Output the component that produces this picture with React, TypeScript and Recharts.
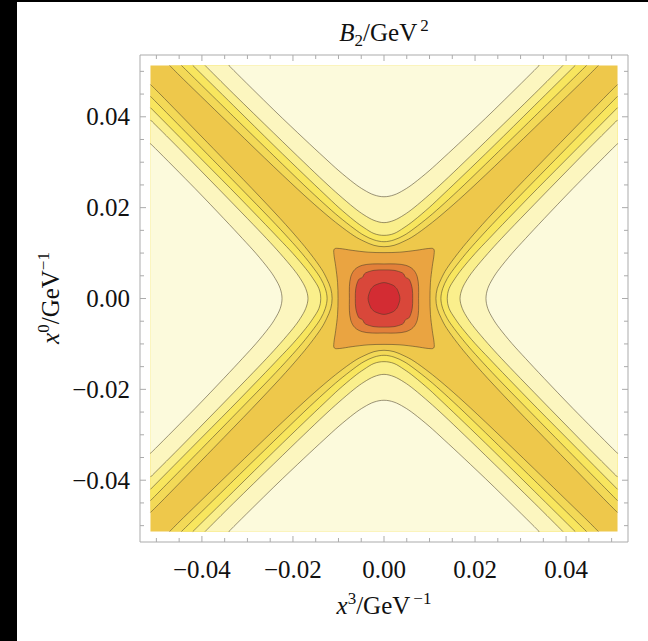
import { ScatterChart, Scatter, XAxis, YAxis } from 'recharts'

const FONT = '"Liberation Serif", "Times New Roman", serif'
const FRAME = '#ababab'
const LINE = 'rgba(70, 60, 40, 0.6)'

// plot range (GeV^-1): filled data range and frame range
const FILL_EXTENT = 0.0513
const AXIS_EXTENT = 0.0536

const MAJOR_TICKS = [-0.04, -0.02, 0, 0.02, 0.04]
const ALL_TICKS = [
  -0.05, -0.045, -0.04, -0.035, -0.03, -0.025, -0.02, -0.015, -0.01, -0.005, 0,
  0.005, 0.01, 0.015, 0.02, 0.025, 0.03, 0.035, 0.04, 0.045, 0.05,
]

// wedge contours, upper half of the left wedge, as [|x3|, x0]
// innermost level first (nearest the X band)
const WEDGE_L5 = [[0.0114, 0], [0.0117, 0.0022], [0.0126, 0.0044], [0.0138, 0.0066], [0.0162, 0.0099], [0.0189, 0.0132], [0.0228, 0.0176], [0.029, 0.0242], [0.0375, 0.033], [0.0482, 0.044], [0.0513, 0.0471]]
const WEDGE_L4 = [[0.0125, 0], [0.0129, 0.0022], [0.0139, 0.0044], [0.0154, 0.0066], [0.018, 0.0099], [0.0209, 0.0132], [0.025, 0.0176], [0.0314, 0.0242], [0.04, 0.033], [0.0513, 0.0445]]
const WEDGE_L3 = [[0.0139, 0], [0.0143, 0.0022], [0.0156, 0.0044], [0.0172, 0.0066], [0.02, 0.0099], [0.0231, 0.0132], [0.0273, 0.0176], [0.0337, 0.0242], [0.0424, 0.033], [0.0513, 0.042]]
const WEDGE_L2 = [[0.0167, 0], [0.0172, 0.0022], [0.0184, 0.0044], [0.02, 0.0066], [0.0228, 0.0099], [0.0258, 0.0132], [0.03, 0.0176], [0.0364, 0.0242], [0.045, 0.033], [0.0513, 0.0393]]
const WEDGE_L1 = [[0.0224, 0], [0.0228, 0.0022], [0.0239, 0.0044], [0.0254, 0.0066], [0.0281, 0.0099], [0.0311, 0.0132], [0.0352, 0.0176], [0.0415, 0.0242], [0.0502, 0.033], [0.0513, 0.034]]
const WEDGE_LEVELS = [WEDGE_L5, WEDGE_L4, WEDGE_L3, WEDGE_L2, WEDGE_L1]
const WEDGE_COLORS = ['#F3D957', '#F8E65E', '#FAEF8C', '#FCF6BF', '#FCFADC']
const BAND_COLOR = '#EEC84B'

// central contours, first quadrant [x3, x0]
const CORE_1 = [[0.0101, 0], [0.0102, 0.0035], [0.0106, 0.007], [0.011, 0.0097], [0.0109, 0.0109], [0.0097, 0.011], [0.007, 0.0106], [0.0035, 0.0102], [0, 0.0101]]
const CORE_2 = [[0.0076, 0], [0.0076, 0.0026], [0.0073, 0.0048], [0.0064, 0.0064], [0.0048, 0.0073], [0.0026, 0.0076], [0, 0.0076]]
const CORE_3 = [[0.0063, 0], [0.0062, 0.0022], [0.0056, 0.0041], [0.0047, 0.0047], [0.0041, 0.0056], [0.0022, 0.0062], [0, 0.0063]]
const CORE_4 = [[0.0035, 0], [0.003, 0.0018], [0.0025, 0.0025], [0.0018, 0.003], [0, 0.0035]]
const CORE_LEVELS = [CORE_1, CORE_2, CORE_3, CORE_4]
const CORE_COLORS = ['#EAA441', '#E2803A', '#D9473A', '#D32C33']

type Pt = { x: number; y: number }
type Kind = 'rect' | 'wedge' | 'loop'

const SIDES = ['left', 'right', 'top', 'bottom'] as const

function wedgeCurve(half: number[][], side: (typeof SIDES)[number]) {
  const full = [...half.slice(1).reverse().map(([u, v]) => [u, -v]), ...half]
  return full.map(([u, v]) => {
    if (side === 'left') return { x: -u, y: v }
    if (side === 'right') return { x: u, y: v }
    if (side === 'top') return { x: v, y: u }
    return { x: v, y: -u }
  })
}

function closedLoop(q: number[][]) {
  const q2 = q.map(([a, b]) => [-a, b]).reverse().slice(1)
  const q3 = q.map(([a, b]) => [-a, -b]).slice(1)
  const q4 = q.map(([a, b]) => [a, -b]).reverse().slice(1, -1)
  return [...q, ...q2, ...q3, ...q4].map(([x, y]) => ({ x, y }))
}

// catmull-rom through the pixel points
function smooth(pts: Pt[], closed: boolean) {
  const n = pts.length
  const get = (i: number) => (closed ? pts[(i + n) % n] : pts[Math.max(0, Math.min(n - 1, i))])
  let d = `M${pts[0].x},${pts[0].y}`
  const segs = closed ? n : n - 1
  for (let i = 0; i < segs; i++) {
    const p0 = get(i - 1), p1 = get(i), p2 = get(i + 1), p3 = get(i + 2)
    const c1x = p1.x + (p2.x - p0.x) / 6
    const c1y = p1.y + (p2.y - p0.y) / 6
    const c2x = p2.x - (p3.x - p1.x) / 6
    const c2y = p2.y - (p3.y - p1.y) / 6
    d += ` C${c1x},${c1y} ${c2x},${c2y} ${p2.x},${p2.y}`
  }
  return closed ? d + 'Z' : d
}

const E = FILL_EXTENT
const fillRect = [{ x: -E, y: -E }, { x: E, y: -E }, { x: E, y: E }, { x: -E, y: E }]
const regions: { key: string; kind: Kind; fill: string; data: Pt[] }[] = [
  { key: 'band', kind: 'rect', fill: BAND_COLOR, data: fillRect },
  ...WEDGE_LEVELS.flatMap((lvl, i) =>
    SIDES.map((side) => ({ key: `w${i}-${side}`, kind: 'wedge' as Kind, fill: WEDGE_COLORS[i], data: wedgeCurve(lvl, side) }))
  ),
  ...CORE_LEVELS.map((q, i) => ({ key: `c${i}`, kind: 'loop' as Kind, fill: CORE_COLORS[i], data: closedLoop(q) })),
]

const regionLine = (kind: Kind, fill: string) => (p: any) => {
  const pts: Pt[] = p.points
  if (kind === 'rect') {
    const d = pts.map((q, i) => `${i ? 'L' : 'M'}${q.x},${q.y}`).join(' ') + 'Z'
    return <path d={d} fill={fill} stroke="none" />
  }
  if (kind === 'loop') {
    return <path d={smooth(pts, true)} fill={fill} stroke={LINE} strokeWidth={0.9} />
  }
  const d = smooth(pts, false)
  return (
    <g>
      <path d={d + 'Z'} fill={fill} stroke="none" />
      <path d={d} fill="none" stroke={LINE} strokeWidth={0.9} />
    </g>
  )
}

const noDot = () => <g />

const fmt = (v: number) => (v < 0 ? '\u2212' : '') + Math.abs(v).toFixed(2)
const isMajor = (v: number) => MAJOR_TICKS.includes(v)

const bottomTick = ({ x, y, payload }: any) => (
  <g>
    <line x1={x} x2={x} y1={y} y2={y - (isMajor(payload.value) ? 6 : 4)} stroke={FRAME} />
    {isMajor(payload.value) && (
      <text x={x} y={y + 36} textAnchor="middle" fontFamily={FONT} fontSize={25} fill="#111">
        {fmt(payload.value)}
      </text>
    )}
  </g>
)
const topTick = ({ x, y, payload }: any) => (
  <line x1={x} x2={x} y1={y} y2={y + (isMajor(payload.value) ? 6 : 4)} stroke={FRAME} />
)
const leftTick = ({ x, y, payload }: any) => (
  <g>
    <line x1={x} x2={x + (isMajor(payload.value) ? 6 : 4)} y1={y} y2={y} stroke={FRAME} />
    {isMajor(payload.value) && (
      <text x={x - 10} y={y + 8.5} textAnchor="end" fontFamily={FONT} fontSize={25} fill="#111">
        {fmt(payload.value)}
      </text>
    )}
  </g>
)
const rightTick = ({ x, y, payload }: any) => (
  <line x1={x} x2={x - (isMajor(payload.value) ? 6 : 4)} y1={y} y2={y} stroke={FRAME} />
)

const PlotTitle = () => (
  <text x={376} y={33} textAnchor="middle" fontFamily={FONT} fontSize={25} fill="#111">
    <tspan fontStyle="italic">B</tspan>
    <tspan fontSize={17} dy={5}>2</tspan>
    <tspan dy={-5}>/GeV</tspan>
    <tspan fontSize={17} dx={3} dy={-10}>2</tspan>
  </text>
)
const XTitle = () => (
  <text x={376} y={606} textAnchor="middle" fontFamily={FONT} fontSize={25} fill="#111">
    <tspan fontStyle="italic">x</tspan>
    <tspan fontSize={17} dy={-10}>3</tspan>
    <tspan dy={10}>/GeV</tspan>
    <tspan fontSize={17} dx={3} dy={-10}>{'\u22121'}</tspan>
  </text>
)
const YTitle = () => (
  <text transform="rotate(-90)" x={-290} y={51} textAnchor="middle" fontFamily={FONT} fontSize={25} fill="#111">
    <tspan fontStyle="italic">x</tspan>
    <tspan fontSize={17} dy={-10}>0</tspan>
    <tspan dy={10}>/GeV</tspan>
    <tspan fontSize={17} dy={-10}>{'\u22121'}</tspan>
  </text>
)

export default function App() {
  const domain = [-AXIS_EXTENT, AXIS_EXTENT]
  return (
    <div>
      <div style={{ position: 'fixed', left: 0, top: 0, width: 17, height: '100%', background: '#000', zIndex: 2 }} />
      <div style={{ position: 'fixed', left: 0, top: 0, width: '100%', height: 2, background: '#000', zIndex: 2 }} />
      <ScatterChart width={640} height={633} margin={{ top: 46, right: 19, bottom: 0, left: 0 }}>
        <XAxis xAxisId="b" type="number" dataKey="x" orientation="bottom" domain={domain} allowDataOverflow
          ticks={ALL_TICKS} interval={0} tickSize={0} tickMargin={0} tickLine={false} tick={bottomTick}
          height={99} axisLine={{ stroke: FRAME }} label={<XTitle />} />
        <XAxis xAxisId="t" type="number" dataKey="x" orientation="top" domain={domain} allowDataOverflow
          ticks={ALL_TICKS} interval={0} tickSize={0} tickMargin={0} tickLine={false} tick={topTick}
          height={1} axisLine={{ stroke: FRAME }} label={<PlotTitle />} />
        <YAxis yAxisId="l" type="number" dataKey="y" orientation="left" domain={domain} allowDataOverflow
          ticks={ALL_TICKS} interval={0} tickSize={0} tickMargin={0} tickLine={false} tick={leftTick}
          width={132} axisLine={{ stroke: FRAME }} label={<YTitle />} />
        <YAxis yAxisId="r" type="number" dataKey="y" orientation="right" domain={domain} allowDataOverflow
          ticks={ALL_TICKS} interval={0} tickSize={0} tickMargin={0} tickLine={false} tick={rightTick}
          width={1} axisLine={{ stroke: FRAME }} />
        {regions.map((r) => (
          <Scatter key={r.key} xAxisId="b" yAxisId="l" data={r.data} isAnimationActive={false}
            shape={noDot} line={regionLine(r.kind, r.fill)} legendType="none" />
        ))}
        <Scatter xAxisId="t" yAxisId="r" data={fillRect} isAnimationActive={false}
          shape={noDot} legendType="none" />
      </ScatterChart>
    </div>
  )
}
